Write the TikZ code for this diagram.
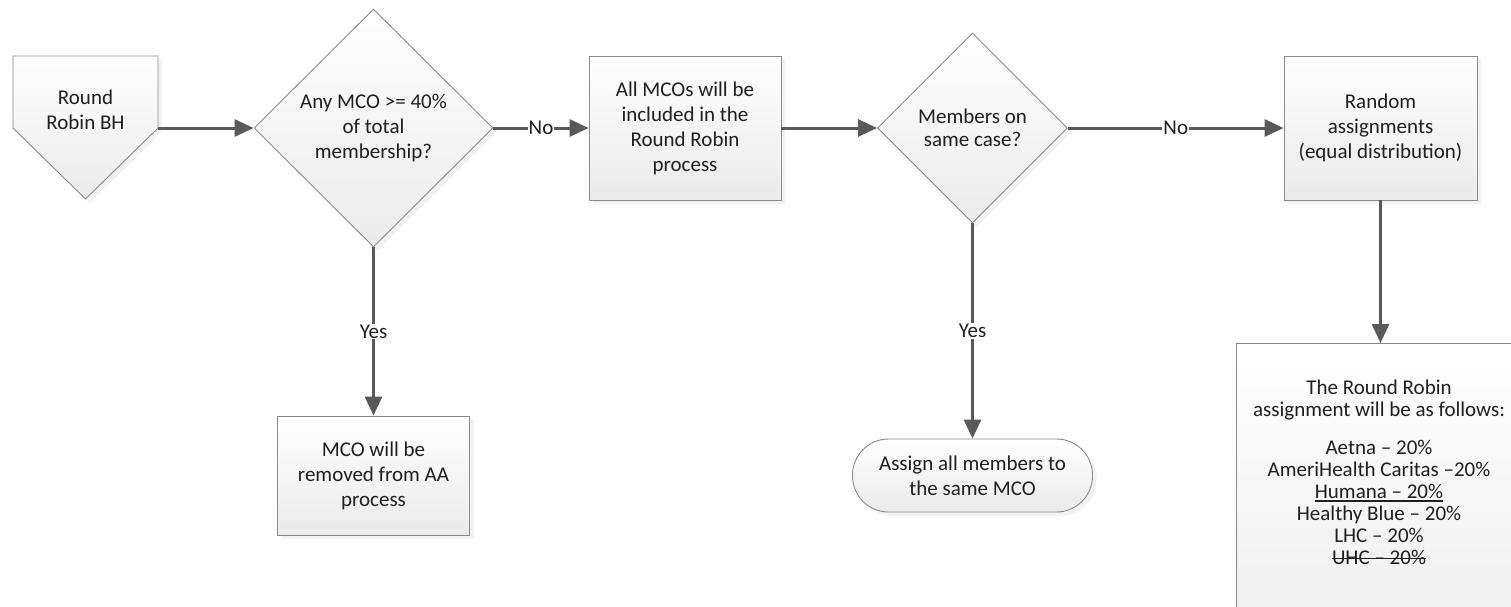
\documentclass[tikz,border=0pt]{standalone}
\usepackage{fontspec}
\setmainfont{Carlito}
\usetikzlibrary{shapes.geometric,arrows.meta,shadows}
\definecolor{arr}{HTML}{595959}
\definecolor{bord}{HTML}{8A8A8A}
\definecolor{txt}{HTML}{1F1F1F}
\newcommand\myul[1]{\sbox0{#1}\rlap{\rule[-0.14em]{\wd0}{0.06em}}\usebox0}
\newcommand\mystk[1]{\sbox0{#1}\rlap{\rule[0.27em]{\wd0}{0.06em}}\usebox0}
\begin{document}
\begin{tikzpicture}[x=1pt,y=-1pt,
  shp/.style={draw=bord, line width=0.9pt, top color=white, bottom color=black!8,
    drop shadow={shadow xshift=4pt,shadow yshift=-4pt,fill=black!10,draw=none},
    text=txt, font=\fontsize{21}{25}\selectfont, align=center, inner sep=0pt},
  boxnode/.style={shp, rectangle},
  dia/.style={shp, diamond, aspect=1},
  term/.style={shp, rectangle, rounded corners=36pt},
  conn/.style={draw=arr, line width=3pt, -{Triangle[length=19pt,width=17pt]}},
  lbl/.style={fill=white, inner sep=1pt, text=txt, font=\fontsize{21}{25}\selectfont}
]
\useasboundingbox (0,0) rectangle (1511,606);
\clip (0,0) rectangle (1511,606);

% start shape
\path[shp] (13,56) -- (158,56) -- (158,128) -- (85.5,199) -- (13,128) -- cycle;
\node[text=txt, font=\fontsize{21}{25}\selectfont, align=center, inner sep=0pt] (rb) at (85.5,109.5) {Round\\Robin BH};
\coordinate (rbE) at (158,128);

\node[dia, minimum width=239pt, minimum height=238pt] (d1) at (373.5,128) {Any MCO >= 40\%\\of total\\membership?};
\node[boxnode, minimum width=192pt, minimum height=144pt] (b2) at (685,128) {All MCOs will be\\included in the\\Round Robin\\process};
\node[dia, minimum width=190pt, minimum height=190pt, font=\fontsize{21}{23}\selectfont] (d2) at (972.5,128) {Members on\\same case?};
\node[boxnode, minimum width=193pt, minimum height=144pt] (b3) at (1380.5,128) {Random\\assignments\\(equal distribution)};
\node[boxnode, minimum width=192pt, minimum height=119pt] (b4) at (373.5,475.5) {MCO will be\\removed from AA\\process};
\node[term, minimum width=240pt, minimum height=73pt] (t1) at (972.5,475.5) {Assign all members to\\the same MCO};
\node[boxnode, minimum width=288pt, minimum height=360pt, anchor=north] (b5) at (1380.5,343) {};
\node[text=txt, font=\fontsize{21}{22}\selectfont, align=center, inner sep=0pt, anchor=north] (b5t) at (1379,380)
  {The Round Robin\\assignment will be as follows:\\[16pt]Aetna – 20\%\\AmeriHealth Caritas –20\%\\\myul{Humana – 20\%}\\Healthy Blue – 20\%\\LHC – 20\%\\\mystk{UHC – 20\%}};

\draw[conn] (rbE) -- (d1.west);
\draw[conn] (d1.east) -- node[lbl]{No} (b2.west);
\draw[conn] (b2.east) -- (d2.west);
\draw[conn] (d2.east) -- node[lbl]{No} (b3.west);
\draw[conn] (d1.south) -- node[lbl]{Yes} (b4.north);
\draw[conn] (d2.south) -- node[lbl]{Yes} (t1.north);
\draw[conn] (b3.south) -- (b5.north);
\end{tikzpicture}
\end{document}
